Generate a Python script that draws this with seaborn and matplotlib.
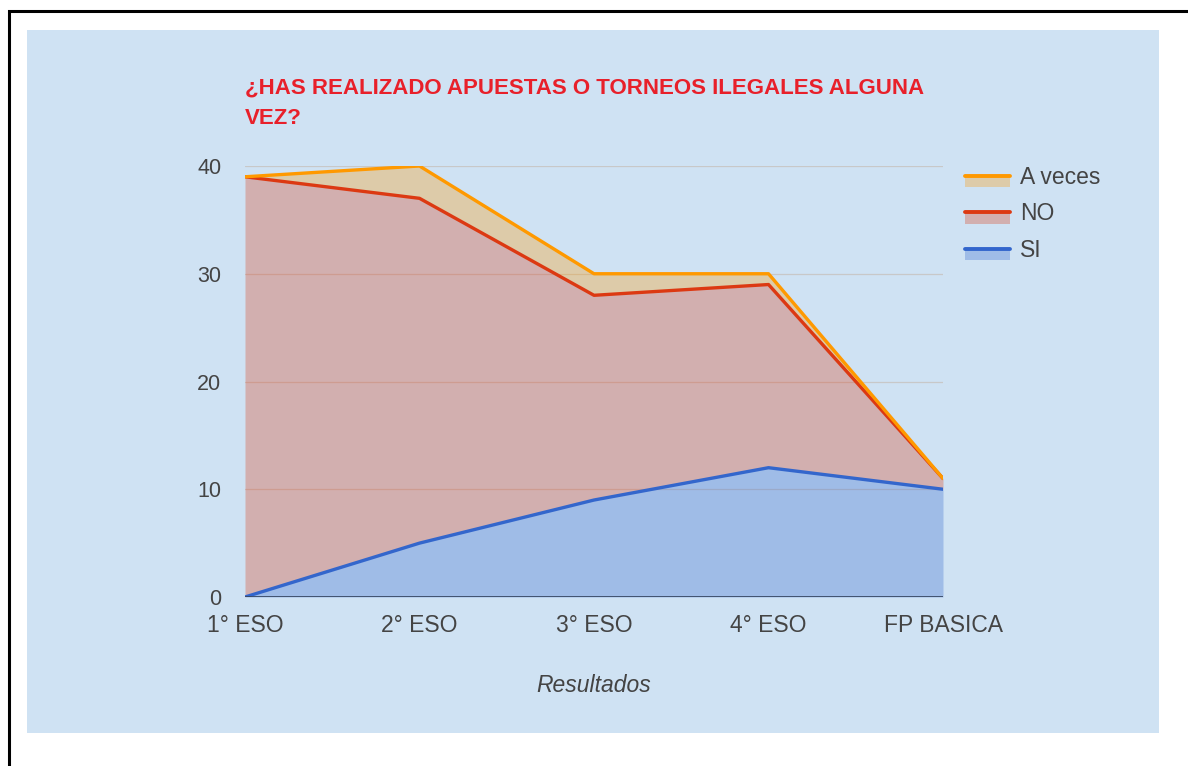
import numpy as np
import pandas as pd
import matplotlib
matplotlib.use("Agg")
import matplotlib.pyplot as plt
import seaborn as sns
from matplotlib.patches import Rectangle
from matplotlib.lines import Line2D
from matplotlib.legend_handler import HandlerBase

# -----------------------------
# Data
# -----------------------------
cursos = ["1° ESO", "2° ESO", "3° ESO", "4° ESO", "FP BASICA"]
si = [0, 5, 9, 12, 10]
no = [39, 32, 19, 17, 1]
a_veces = [0, 3, 2, 1, 0]

series = ["SI", "NO", "A veces"]
colores = {"SI": "#3366cc", "NO": "#dc3912", "A veces": "#ff9900"}

bg = "#cfe2f3"
title_txt = "¿HAS REALIZADO APUESTAS O TORNEOS ILEGALES ALGUNA\nVEZ?"

# stacked table
df = pd.DataFrame({"curso": cursos, "SI": si, "NO": no, "A veces": a_veces})
df["x"] = np.arange(len(cursos))
df["top_SI"] = df["SI"]
df["top_NO"] = df["top_SI"] + df["NO"]
df["top_A veces"] = df["top_NO"] + df["A veces"]
long = df.melt(id_vars=["x"], value_vars=["top_SI", "top_NO", "top_A veces"],
               var_name="serie", value_name="valor")
long["serie"] = long["serie"].str.replace("top_", "")

# -----------------------------
# Figure
# -----------------------------
sns.set_style("white")
plt.rcParams["font.family"] = ["Liberation Sans", "DejaVu Sans"]

fig = plt.figure(figsize=(11.88, 7.66), dpi=100, facecolor="white")

# outer frame and blue panel
fig.add_artist(Rectangle((9 / 1188, -0.2), 1.3, 1.2 - 11 / 766,
                         transform=fig.transFigure, fill=False,
                         edgecolor="black", linewidth=2.2, zorder=0))
fig.add_artist(Rectangle((27 / 1188, 33 / 766), 1132 / 1188, 703 / 766,
                         transform=fig.transFigure, facecolor=bg,
                         edgecolor="none", zorder=0))

ax = fig.add_axes([245 / 1188, 169 / 766, 698 / 1188, 431 / 766])
ax.set_facecolor("none")

# areas
prev = np.zeros(len(cursos))
for s in series:
    top = df["top_" + s].values
    ax.fill_between(df["x"], prev, top, color=colores[s], alpha=0.3,
                    linewidth=0, zorder=2)
    prev = top

sns.lineplot(data=long, x="x", y="valor", hue="serie", hue_order=series,
             palette=colores, linewidth=2.4, legend=False, ax=ax, zorder=3)

ax.set_xlim(0, 4)
ax.set_ylim(0, 40)
ax.set_yticks([0, 10, 20, 30, 40])
ax.set_xticks(df["x"])
ax.set_xticklabels(cursos)
for y in [10, 20, 30, 40]:
    ax.axhline(y, color="#c8c8c8", linewidth=0.9, zorder=1)
ax.axhline(0, color="#3a4a66", linewidth=1.3, zorder=4)

for sp in ax.spines.values():
    sp.set_visible(False)
ax.tick_params(axis="both", length=0, labelcolor="#444444")
ax.tick_params(axis="y", pad=17, labelsize=15.5)
ax.tick_params(axis="x", pad=12, labelsize=16.5)

ax.set_xlabel("Resultados", fontsize=16.5, fontstyle="italic", color="#444444",
              labelpad=27)
ax.set_ylabel("")

fig.text(245 / 1188, 1 - 78 / 766, title_txt, fontsize=16, fontweight="bold",
         color="#e8202a", ha="left", va="top", linespacing=1.55)


# legend: line on top of a light fill box
class AreaHandler(HandlerBase):
    def create_artists(self, legend, orig, xd, yd, w, h, fontsize, trans):
        c = orig.get_color()
        rect = Rectangle((xd, yd - 0.2 * h), w, 0.7 * h, facecolor=c,
                         alpha=0.3, edgecolor="none", transform=trans)
        line = Line2D([xd, xd + w], [yd + 0.5 * h, yd + 0.5 * h], color=c,
                      linewidth=2.8, transform=trans)
        return [rect, line]


handles = [Line2D([], [], color=colores[s]) for s in series[::-1]]
leg = ax.legend(handles, series[::-1], handler_map={Line2D: AreaHandler()},
                loc="upper left", bbox_to_anchor=(1.0315, 1.001), frameon=False,
                borderaxespad=0, borderpad=0,
                fontsize=16.5, handlelength=1.95, handletextpad=0.45,
                labelspacing=0.6)
for t in leg.get_texts():
    t.set_color("#444444")

fig.savefig("out.png", dpi=100, facecolor="white")
